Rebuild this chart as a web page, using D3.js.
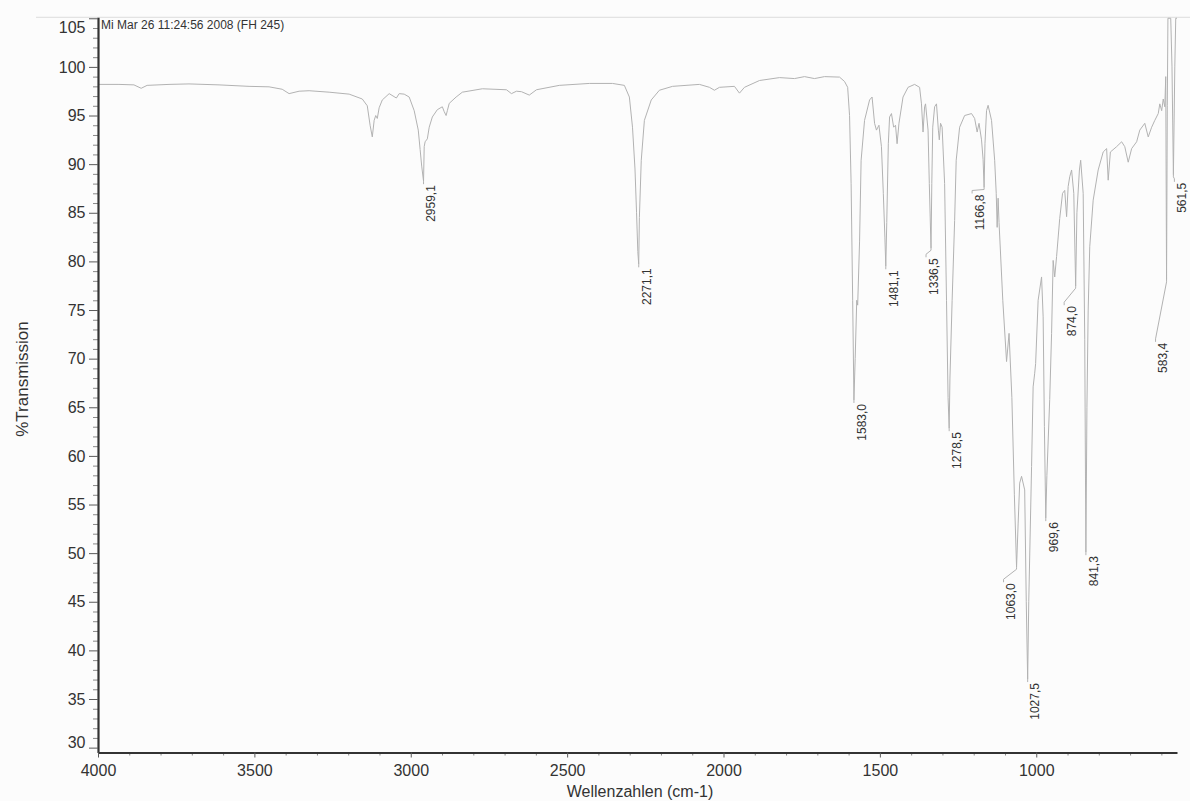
<!DOCTYPE html>
<html>
<head>
<meta charset="utf-8">
<script src="https://cdn.jsdelivr.net/npm/d3@7"></script>
<style>
  html, body { margin: 0; padding: 0; background: #fcfcfc; }
  svg { display: block; font-family: "Liberation Sans", Arial, Helvetica, sans-serif; }
</style>
</head>
<body>
<svg id="chart" width="1190" height="801"></svg>
<script>
// FT-IR spectrum, FH 245 — wavenumber (cm-1) against %Transmission
const wavenumbers = [
  4000, 3933, 3885, 3862, 3843, 3773, 3709, 3613, 3517, 3453, 3411, 3389, 3357, 3325, 3261, 3197,
  3155, 3139, 3130, 3123, 3117, 3112, 3107, 3101, 3091, 3069, 3046, 3037, 3021, 3005, 2989, 2976,
  2970, 2965, 2959.1, 2957, 2954, 2947, 2941, 2931, 2915, 2899, 2893, 2887, 2883, 2877, 2855, 2835,
  2771, 2694, 2678, 2662, 2646, 2621, 2598, 2525, 2429, 2355, 2317, 2301, 2291, 2283, 2278, 2274,
  2271.1, 2269, 2263, 2253, 2231, 2205, 2163, 2077, 2045, 2029, 2013, 1965, 1949, 1933, 1885, 1821,
  1773, 1741, 1709, 1677, 1629, 1613, 1603, 1597, 1592, 1587, 1583.0, 1579, 1574, 1571, 1565, 1560,
  1549, 1533, 1525, 1517, 1511, 1503, 1495, 1489, 1484, 1481.1, 1478, 1473, 1469, 1463, 1456, 1450,
  1445, 1439, 1426, 1410, 1389, 1373, 1367, 1362, 1357, 1354, 1346, 1342, 1336.5, 1334, 1331, 1325,
  1319, 1313, 1310, 1306, 1301, 1293, 1287, 1282, 1278.5, 1276, 1269, 1261, 1256, 1245, 1229, 1207,
  1197, 1189, 1183, 1175, 1170, 1166.8, 1164, 1159, 1154, 1143, 1133, 1128, 1125, 1122, 1119, 1107,
  1095, 1087, 1078, 1070, 1063.0, 1058, 1053, 1047, 1037, 1032, 1027.5, 1024, 1015, 1010, 1005, 1002,
  994, 983, 978, 974, 969.6, 966, 957, 951, 946, 941, 935, 925, 916, 909, 903, 898,
  893, 887, 880, 874.0, 870, 862, 858, 850, 845, 841.3, 838, 834, 829, 818, 802, 786,
  775, 770, 763, 743, 727, 717, 706, 695, 679, 669, 653, 642, 631, 621, 610, 605,
  599, 594, 589, 586, 583.4, 581, 579, 570, 566, 561.5, 557, 554, 550
];
const transmission = [
  98.2, 98.2, 98.15, 97.8, 98.1, 98.2, 98.25, 98.15, 98.0, 97.95, 97.7, 97.25, 97.5, 97.55, 97.4, 97.2,
  96.7, 96.0, 94.0, 92.8, 94.5, 95.0, 94.7, 95.8, 96.6, 97.25, 96.8, 97.25, 97.2, 96.9, 95.5, 93.5,
  91.5, 89.8, 88.25, 91.8, 92.3, 92.6, 93.8, 94.85, 95.6, 95.9, 95.4, 95.0, 95.5, 96.25, 96.9, 97.4,
  97.75, 97.65, 97.25, 97.5, 97.45, 97.1, 97.65, 98.1, 98.3, 98.3, 98.1, 96.9, 93.8, 89.5, 85.0, 81.0,
  79.7, 84.5, 90.4, 94.5, 96.6, 97.6, 98.0, 98.2, 97.9, 97.6, 97.9, 98.0, 97.3, 97.9, 98.6, 98.9,
  98.8, 99.0, 98.8, 99.0, 98.95, 98.5, 97.9, 95.0, 88.0, 76.0, 65.75, 70.0, 76.0, 75.5, 82.0, 90.4,
  94.5, 96.6, 96.9, 94.2, 93.5, 94.0, 91.8, 87.0, 82.5, 79.5, 84.0, 92.1, 94.85, 95.2, 93.8, 94.0,
  92.1, 94.2, 96.9, 97.9, 98.2, 97.9, 96.2, 93.3, 95.9, 96.2, 93.5, 88.0, 81.35, 88.0, 93.8, 95.9,
  96.2, 93.5, 92.5, 94.2, 93.8, 88.0, 76.0, 66.0, 62.85, 68.0, 76.0, 84.2, 90.4, 93.8, 95.0, 95.2,
  94.7, 93.3, 94.2, 92.5, 90.5, 87.6, 92.1, 95.5, 96.05, 94.5, 90.4, 87.0, 83.5, 86.5, 84.0, 76.0,
  69.7, 72.6, 66.0, 56.0, 48.55, 53.0, 57.2, 57.9, 56.5, 45.0, 37.05, 45.0, 58.9, 67.1, 68.5, 69.5,
  76.0, 78.4, 74.3, 63.0, 53.6, 58.0, 65.8, 72.6, 80.1, 78.4, 80.5, 84.4, 87.0, 87.3, 84.6, 87.7,
  88.7, 89.4, 87.0, 77.45, 85.0, 89.4, 90.4, 87.0, 72.0, 50.1, 65.0, 75.0, 81.5, 86.3, 89.4, 91.25,
  91.6, 88.35, 91.25, 91.8, 92.3, 91.8, 90.2, 91.6, 92.3, 93.5, 94.2, 92.8, 93.8, 94.5, 95.2, 96.2,
  95.5, 96.7, 95.9, 99.0, 78.1, 96.0, 105, 105, 100, 88.9, 100, 105, 105
];

// Labelled band positions (cm-1)
const peakPositions = [2959.1, 2271.1, 1583.0, 1481.1, 1336.5, 1278.5, 1166.8, 1063.0, 1027.5, 969.6, 874.0, 841.3, 583.4, 561.5];

// Axis ticks
const xTicks = [4000, 3500, 3000, 2500, 2000, 1500, 1000];
const xMinorTicks = d3.range(600, 4000, 100).filter(v => v % 500 !== 0);
const yTicks = [30, 35, 40, 45, 50, 55, 60, 65, 70, 75, 80, 85, 90, 95, 100, 105];
const yMinorTicks = d3.range(30, 106, 1).filter(v => v % 5 !== 0);

// Label placement: sideways shift of crowded labels and their drop below the band (px)
const labelLayout = {
  1336.5: { shift: -5, drop: 10 },
  1166.8: { shift: -12, drop: 7 },
  1063.0: { shift: -13, drop: 16 },
  874.0:  { shift: -11.5, drop: 20 },
  583.4:  { shift: -11, drop: 63 },
  561.5:  { shift: 1, drop: 8 }
};

const svg = d3.select("#chart");
const plot = { left: 98, right: 1177, top: 17.3, bottom: 752.5 };

const x = d3.scaleLinear().domain([4000, 550]).range([plot.left, plot.right]);
const y = d3.scaleLinear().domain([29.5, 105.1]).range([plot.bottom, plot.top]);

const textColor = "#333";
const traceColor = "#b2b2b2";

// faint rule along the top edge of the sheet
svg.append("line")
  .attr("x1", 36).attr("x2", 1190)
  .attr("y1", plot.top).attr("y2", plot.top)
  .attr("stroke", "#dcdcdc").attr("stroke-width", 1);

svg.append("defs").append("clipPath").attr("id", "plotClip")
  .append("rect")
  .attr("x", plot.left).attr("y", plot.top - 0.5)
  .attr("width", plot.right - plot.left + 2).attr("height", plot.bottom - plot.top);

const series = wavenumbers.map((w, i) => ({ w, t: transmission[i] }));

const line = d3.line()
  .x(d => x(d.w))
  .y(d => y(d.t));

svg.append("path")
  .datum(series)
  .attr("clip-path", "url(#plotClip)")
  .attr("fill", "none")
  .attr("stroke", traceColor)
  .attr("stroke-width", 1)
  .attr("stroke-linejoin", "round")
  .attr("d", line);

// Peak labels with leader lines
const peaks = peakPositions.map(p => {
  const i = wavenumbers.indexOf(p);
  return { w: p, t: transmission[i] };
});

const fmt = v => v.toFixed(1).replace(".", ",");
const peakG = svg.append("g");
peaks.forEach(p => {
  const px = x(p.w), py = y(p.t);
  const lay = labelLayout[p.w] || { shift: 0, drop: 4 };
  const cx = px + 7.5 + lay.shift;       // label centre line
  const top = py + lay.drop;              // upper end of the label
  const lx = cx - 7.5;                    // leader end
  const pts = lay.shift === 0 ? [[px, py], [lx, top - 1]]
    : [[px, py], [px, py + 2], [lx, top - 4], [lx, top - 1]];
  peakG.append("path")
    .attr("d", d3.line()(pts))
    .attr("fill", "none")
    .attr("stroke", traceColor)
    .attr("stroke-width", 1);
  peakG.append("text")
    .attr("transform", `translate(${cx + 4.3},${top}) rotate(-90)`)
    .attr("text-anchor", "end")
    .attr("font-size", 12)
    .attr("fill", textColor)
    .text(fmt(p.w));
});

// Axes
const styleAxis = g => {
  g.select(".domain").attr("stroke", "#333").attr("stroke-width", 2.2);
  g.selectAll(".tick line").attr("stroke", "#5a5a5a").attr("stroke-width", 1);
  g.selectAll("text").attr("fill", textColor).attr("font-size", 16)
    .attr("font-family", '"Liberation Sans", Arial, sans-serif');
};

svg.append("g")
  .attr("transform", `translate(${plot.left},0)`)
  .call(d3.axisLeft(y).tickValues(yMinorTicks).tickSize(5).tickSizeOuter(0).tickFormat(""))
  .call(g => g.select(".domain").remove())
  .call(g => g.selectAll(".tick line").attr("stroke", "#888"));

const yAxisG = svg.append("g")
  .attr("transform", `translate(${plot.left},0)`)
  .call(d3.axisLeft(y).tickValues(yTicks).tickSize(9).tickPadding(3.5).tickSizeOuter(0).tickFormat(d3.format("d")))
  .call(styleAxis);
// keep the end labels inside the axis span
yAxisG.selectAll(".tick").filter(d => d === 105).select("text").attr("y", 9);
yAxisG.selectAll(".tick").filter(d => d === 30).select("text").attr("y", -5);

svg.append("g")
  .attr("transform", `translate(0,${plot.bottom})`)
  .call(d3.axisBottom(x).tickValues(xMinorTicks).tickSize(3).tickSizeOuter(0).tickFormat(""))
  .call(g => g.select(".domain").remove())
  .call(g => g.selectAll(".tick line").attr("stroke", "#888"));

svg.append("g")
  .attr("transform", `translate(0,${plot.bottom})`)
  .call(d3.axisBottom(x).tickValues(xTicks).tickSize(5).tickPadding(7).tickSizeOuter(0).tickFormat(d3.format("d")))
  .call(styleAxis);

// Titles
svg.append("text")
  .attr("x", 101).attr("y", 29)
  .attr("font-size", 12).attr("fill", textColor)
  .text("Mi Mar 26 11:24:56 2008 (FH 245)");

svg.append("text")
  .attr("transform", "translate(28,379) rotate(-90)")
  .attr("text-anchor", "middle")
  .attr("font-size", 17).attr("fill", textColor)
  .text("%Transmission");

svg.append("text")
  .attr("x", 640).attr("y", 797)
  .attr("text-anchor", "middle")
  .attr("font-size", 16).attr("fill", textColor)
  .text("Wellenzahlen (cm-1)");
</script>
</body>
</html>
